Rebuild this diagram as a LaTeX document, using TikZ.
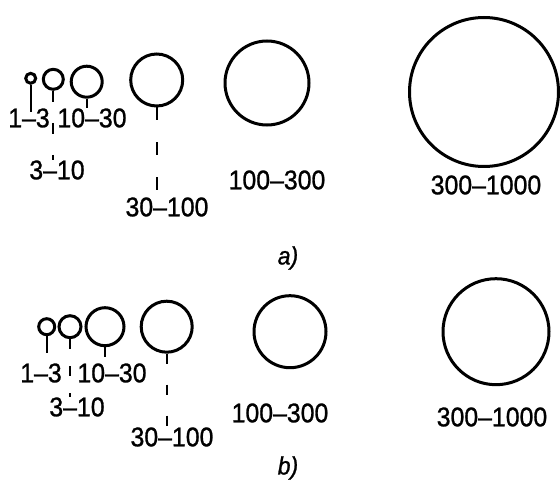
\documentclass[tikz,border=0pt]{standalone}
\usepackage{fontspec}
\setmainfont{Liberation Sans}[FakeStretch=0.92,FakeBold=1]
\begin{document}
\begin{tikzpicture}[x=1pt,y=-1pt,
  ring/.style={circle,draw,line width=3pt,inner sep=0pt},
  lab/.style={font=\fontsize{27}{27}\selectfont,inner sep=0pt,anchor=center},
  captxt/.style={font=\fontsize{25}{25}\selectfont\itshape,inner sep=0pt},
  stem/.style={line width=2pt},
  dstem/.style={line width=2pt,dash pattern=on #1}]
\useasboundingbox (0,0) rectangle (560,484);
% ---------- panel a ----------
\node[ring,minimum size=10pt] (a1) at (30.7,78.3) {};
\node[ring,minimum size=20pt] (a2) at (53.3,79.3) {};
\node[ring,minimum size=31pt] (a3) at (86.7,81.7) {};
\node[ring,minimum size=52pt] (a4) at (156.7,80) {};
\node[ring,minimum size=84pt] (a5) at (267,83) {};
\node[ring,minimum size=149pt] (a6) at (484,92) {};
\node[lab] (la1) at (29,118) {1–3};
\node[lab] (la3) at (92,118) {10–30};
\node[lab] (la2) at (57,170) {3–10};
\node[lab] (la4) at (167,207) {30–100};
\node[lab] (la5) at (277,180) {100–300};
\node[lab] (la6) at (486,185) {300–1000};
\node[captxt] (ca) at (288,258) {a)};
\draw[stem] (a1.south) -- (a1.south |- la1.north) -- ++(0,4);
\draw[stem] (a3.south) -- (a3.south |- la3.north);
\draw[dstem={11pt off 21pt}] (a2.south) -- (a2.south |- la2.north);
\draw[dstem={13pt off 22pt}] (a4.south) -- (a4.south |- la4.north);
% ---------- panel b ----------
\node[ring,minimum size=16pt] (b1) at (46.7,326.7) {};
\node[ring,minimum size=22pt] (b2) at (70,326.7) {};
\node[ring,minimum size=38pt] (b3) at (105,326.7) {};
\node[ring,minimum size=51pt] (b4) at (166.7,326.7) {};
\node[ring,minimum size=72pt] (b5) at (290,331.7) {};
\node[ring,minimum size=106pt] (b6) at (496,331.7) {};
\node[lab] (lb1) at (41,373) {1–3};
\node[lab] (lb3) at (112,373) {10–30};
\node[lab] (lb2) at (77,407) {3–10};
\node[lab] (lb4) at (172,437) {30–100};
\node[lab] (lb5) at (280,413) {100–300};
\node[lab] (lb6) at (492,417) {300–1000};
\node[captxt] (cb) at (288,468) {b)};
\coordinate (e1) at (46.7,353);
\coordinate (e3) at (105,357);
\draw[stem] (b1.south) -- (e1);
\draw[stem] (b3.south) -- (e3);
\draw[dstem={10pt off 17pt}] (b2.south) -- (b2.south |- lb2.north);
\draw[dstem={10pt off 21pt}] (b4.south) -- (b4.south |- lb4.north);
\end{tikzpicture}
\end{document}
